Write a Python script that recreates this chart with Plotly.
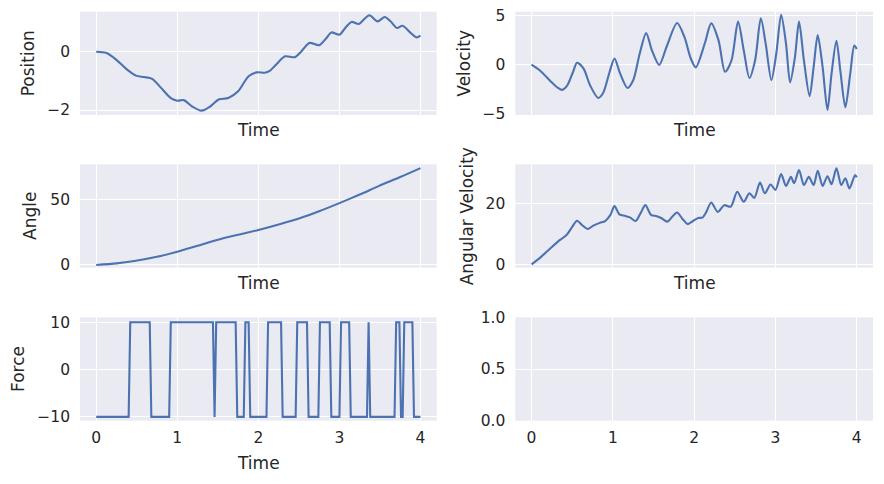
import plotly.graph_objects as go

# ---------------- data ----------------
pos_t = [0, 0.12, 0.245, 0.37, 0.49, 0.59, 0.69, 0.80, 0.92, 1.0, 1.08, 1.18, 1.30, 1.41, 1.51,
         1.63, 1.75, 1.88, 1.98, 2.08, 2.14, 2.22, 2.33, 2.45, 2.53, 2.63, 2.75, 2.84, 2.90, 3.0,
         3.08, 3.15, 3.24, 3.30, 3.37, 3.47, 3.56, 3.63, 3.71, 3.78, 3.88, 3.95, 4.0]
pos_v = [0, -0.04, -0.27, -0.59, -0.82, -0.87, -0.93, -1.24, -1.59, -1.68, -1.66, -1.87, -2.02,
         -1.87, -1.64, -1.59, -1.36, -0.84, -0.71, -0.72, -0.66, -0.44, -0.16, -0.19, 0.01, 0.30,
         0.22, 0.47, 0.66, 0.58, 0.84, 1.02, 0.95, 1.10, 1.25, 1.04, 1.19, 1.04, 0.81, 0.89, 0.64,
         0.49, 0.55]

vel_t = [0, 0.11, 0.23, 0.31, 0.375, 0.44, 0.51, 0.56, 0.64, 0.72, 0.82, 0.88, 0.96, 1.02, 1.09,
         1.18, 1.25, 1.33, 1.41, 1.48, 1.57, 1.66, 1.79, 1.88, 1.96, 2.02, 2.13, 2.21, 2.30, 2.38,
         2.46, 2.54, 2.61, 2.68, 2.75, 2.82, 2.88, 2.95, 3.01, 3.07, 3.13, 3.18, 3.24, 3.29, 3.35,
         3.42, 3.47, 3.52, 3.58, 3.64, 3.69, 3.75, 3.80, 3.86, 3.92, 3.97, 4.0]
vel_v = [0, -0.64, -1.65, -2.26, -2.55, -2.09, -0.74, 0.2, -0.40, -2.09, -3.37, -2.87, -0.74, 0.63,
         -0.91, -2.36, -1.58, 1.11, 3.2, 1.46, -0.03, 1.79, 4.22, 2.81, 0.6, -0.27, 2.13, 4.19,
         2.47, -0.72, 0.45, 4.36, 1.46, -1.35, 0.45, 4.7, 2.13, -1.55, 1.11, 5.05, 2.13, -1.8,
         0.78, 4.36, 0.45, -3.2, -0.23, 3.0, -0.23, -4.59, -0.91, 2.43, -0.74, -4.32, -0.91,
         1.93, 1.6]

ang_t = [0, 0.25, 0.47, 0.75, 1.0, 1.25, 1.49, 1.75, 2.0, 2.25, 2.51, 2.75, 3.0, 3.25, 3.49, 3.75, 4.0]
ang_v = [0, 1.2, 3.0, 6.2, 10.1, 14.5, 19.0, 23.0, 26.6, 30.8, 35.5, 40.8, 47.0, 53.5, 60.1, 66.8, 73.6]

angvel_t = [0, 0.11, 0.23, 0.35, 0.43, 0.50, 0.56, 0.62, 0.69, 0.76, 0.84, 0.905, 0.97, 1.02,
            1.08, 1.15, 1.21, 1.28, 1.34, 1.40, 1.47, 1.54, 1.60, 1.67, 1.73, 1.79, 1.86, 1.92,
            1.99, 2.05, 2.10, 2.15, 2.21, 2.29, 2.37, 2.45, 2.53, 2.61, 2.68, 2.74, 2.81, 2.87,
            2.94, 3.00, 3.07, 3.13, 3.19, 3.23, 3.29, 3.35, 3.41, 3.47, 3.52, 3.58, 3.64, 3.69,
            3.75, 3.81, 3.86, 3.91, 3.98, 4.0]
angvel_v = [0, 2.3, 5.2, 8.0, 9.6, 12.3, 14.3, 12.9, 11.6, 12.7, 13.6, 14.2, 16.2, 19.1, 16.4,
            15.9, 15.4, 14.2, 16.7, 19.4, 16.2, 15.8, 15.1, 14.0, 15.6, 17.0, 14.8, 13.2, 14.3,
            15.2, 15.3, 17.2, 20.3, 17.2, 19.4, 18.9, 23.8, 20.5, 23.3, 21.8, 26.8, 23.3, 26.2,
            24.4, 29.6, 25.7, 28.7, 26.6, 30.9, 26.0, 28.7, 26.0, 30.7, 25.7, 28.9, 26.3, 31.5,
            26.0, 28.2, 24.9, 29.3, 28.5]

force_t = [0, 0.40, 0.42, 0.66, 0.68, 0.90, 0.92, 1.44, 1.46, 1.48, 1.72, 1.74, 1.82, 1.84, 1.88,
           1.90, 2.10, 2.12, 2.28, 2.30, 2.46, 2.48, 2.60, 2.62, 2.74, 2.76, 2.88, 2.90, 3.00,
           3.02, 3.12, 3.14, 3.34, 3.36, 3.38, 3.68, 3.70, 3.74, 3.76, 3.78, 3.80, 3.90, 3.92, 4.0]
force_v = [-10, -10, 10, 10, -10, -10, 10, 10, -10, 10, 10, -10, -10, 10, 10, -10, -10, 10, 10,
           -10, -10, 10, 10, -10, -10, 10, 10, -10, -10, 10, 10, -10, -10, 10, -10, -10, 10, 10,
           -10, -10, 10, 10, -10, -10]

x_ticks = [0, 1, 2, 3, 4]
panel_labels = ["Position", "Velocity", "Angle", "Angular Velocity", "Force"]

# ---------------- styling ----------------
W, H = 884, 484
BLUE = "#4C72B0"
BG = "#EAEAF2"
TXT = "#262626"
FONT = "DejaVu Sans"

def px_x(a, b):
    return [a / W, b / W]

def px_y(top, bottom):
    return [1 - bottom / H, 1 - top / H]

col_dom = [px_x(80, 436.7), px_x(515.3, 873)]
row_dom = [px_y(11.7, 115), px_y(164.3, 267.7), px_y(317.3, 420.7)]

fig = go.Figure()

series = [
    (pos_t, pos_v, "spline"),
    (vel_t, vel_v, "spline"),
    (ang_t, ang_v, "spline"),
    (angvel_t, angvel_v, "spline"),
    (force_t, force_v, "linear"),
]
for i, (tx, vy, shape) in enumerate(series):
    n = i + 1
    sfx = "" if n == 1 else str(n)
    fig.add_trace(go.Scatter(x=tx, y=vy, mode="lines",
                             line=dict(color=BLUE, width=2.1, shape=shape, smoothing=0.8),
                             xaxis="x" + sfx, yaxis="y" + sfx, showlegend=False))
fig.add_trace(go.Scatter(x=[], y=[], mode="lines", xaxis="x6", yaxis="y6", showlegend=False))

y_ranges = [[-2.17, 1.37], [-5.1, 5.37], [-2.1, 76.5], [-1.1, 32.8], [-10.8, 11.05], [0, 1]]
y_ticks = [[-2, 0], [-5, 0, 5], [0, 50], [0, 20], [-10, 0, 10], [0, 0.5, 1]]
y_text = [["−2", "0"], ["−5", "0", "5"], ["0", "50"], ["0", "20"], ["−10", "0", "10"],
          ["0.0", "0.5", "1.0"]]

layout = dict(width=W, height=H, margin=dict(l=0, r=0, t=0, b=0, autoexpand=False),
              paper_bgcolor="white", plot_bgcolor=BG,
              font=dict(family=FONT, size=15, color=TXT), showlegend=False)

for i in range(6):
    r, c = divmod(i, 2)
    sfx = "" if i == 0 else str(i + 1)
    layout["xaxis" + sfx] = dict(
        domain=col_dom[c], anchor="y" + sfx, range=[-0.2, 4.2], automargin=False,
        tickvals=x_ticks, showticklabels=(r == 2), ticks="",
        showgrid=True, gridcolor="white", gridwidth=1.3, zeroline=False,
        showline=False, ticklabelstandoff=6, tickfont=dict(size=15.5, color=TXT))
    layout["yaxis" + sfx] = dict(
        domain=row_dom[r], anchor="x" + sfx, range=y_ranges[i], automargin=False,
        tickvals=y_ticks[i], ticktext=y_text[i], ticks="",
        showgrid=True, gridcolor="white", gridwidth=1.3, zeroline=False,
        showline=False, ticklabelstandoff=9, tickfont=dict(size=15.5, color=TXT))

fig.update_layout(**layout)

ylabel_shift = [-52, -51, -50, -48, -62]
time_shift = [-15, -15, -15, -15, -42]
for i, lab in enumerate(panel_labels):
    sfx = "" if i == 0 else str(i + 1)
    fig.add_annotation(text=lab, xref="x" + sfx + " domain", yref="y" + sfx + " domain",
                       x=0, y=0.5, xanchor="center", yanchor="middle", xshift=ylabel_shift[i],
                       textangle=-90, showarrow=False, font=dict(size=17, color=TXT, family=FONT))
    fig.add_annotation(text="Time", xref="x" + sfx + " domain", yref="y" + sfx + " domain",
                       x=0.5, y=0, xanchor="center", yanchor="middle", yshift=time_shift[i],
                       showarrow=False, font=dict(size=17, color=TXT, family=FONT))

fig.write_html("out.html", config={"displayModeBar": False},
               post_script="document.body.style.margin='0';document.body.style.padding='0';")
